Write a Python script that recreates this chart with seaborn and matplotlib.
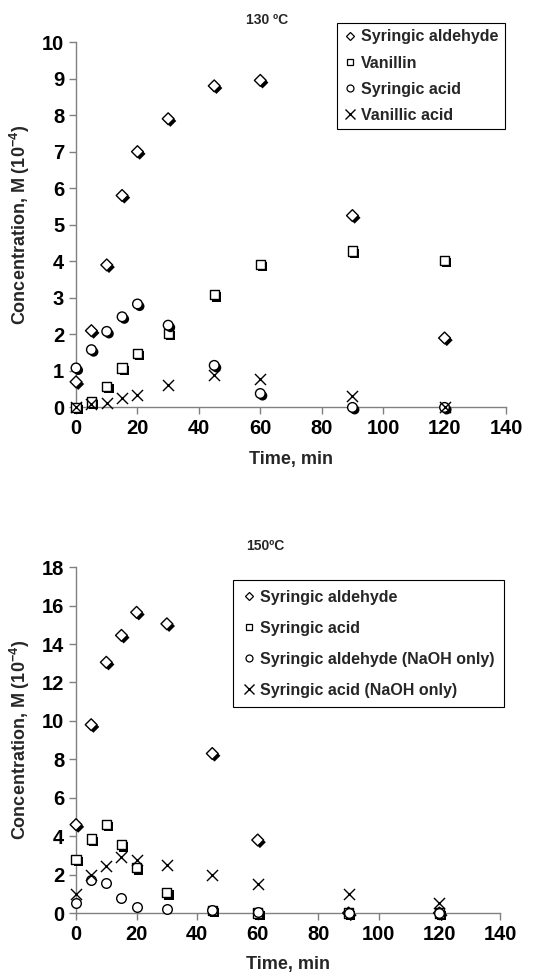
import numpy as np
import pandas as pd
import matplotlib
matplotlib.use('Agg')
import matplotlib.pyplot as plt
import matplotlib.patheffects as pe
from matplotlib.lines import Line2D
import seaborn as sns

sns.set_style('ticks')
plt.rcParams['font.family'] = ['Liberation Sans', 'DejaVu Sans']
plt.rcParams['font.weight'] = 'bold'
plt.rcParams['mathtext.fontset'] = 'custom'
plt.rcParams['mathtext.rm'] = 'Liberation Sans:bold'
plt.rcParams['mathtext.default'] = 'rm'

# 130 ºC data
time = [0, 5, 10, 15, 20, 30, 45, 60, 90, 120]
syr_ald_130 = [0.7, 2.1, 3.9, 5.8, 7.0, 7.9, 8.8, 8.95, 5.25, 1.9]
vanillin_130 = [0.0, 0.15, 0.58, 1.08, 1.48, 2.02, 3.08, 3.92, 4.28, 4.02]
syr_acid_130 = [1.08, 1.58, 2.08, 2.48, 2.83, 2.25, 1.15, 0.38, 0.0, 0.0]
van_acid_130 = [0.0, 0.08, 0.13, 0.25, 0.35, 0.62, 0.9, 0.78, 0.32, 0.02]

# 150 ºC data
syr_ald_150 = [4.6, 9.8, 13.05, 14.45, 15.65, 15.05, 8.3, 3.8, 0.0, 0.0]
syr_acid_150 = [2.8, 3.85, 4.6, 3.55, 2.35, 1.05, 0.15, 0.0, 0.0, 0.0]
syr_ald_naoh_150 = [0.5, 1.72, 1.55, 0.8, 0.33, 0.22, 0.15, 0.05, 0.02, 0.02]
syr_acid_naoh_150 = [0.98, 2.0, 2.45, 2.9, 2.75, 2.5, 2.0, 1.5, 0.98, 0.52]

names_130 = ['Syringic aldehyde', 'Vanillin', 'Syringic acid', 'Vanillic acid']
names_150 = ['Syringic aldehyde', 'Syringic acid',
             'Syringic aldehyde (NaOH only)', 'Syringic acid (NaOH only)']

markers = ['D', 's', 'o', 'x']
sizes = [36, 44, 48, 64]
shadow = [pe.SimplePatchShadow(offset=(1.6, -1.6), shadow_rgbFace='black', alpha=1.0),
          pe.Normal()]

fig = plt.figure(figsize=(5.47, 9.77), dpi=100)
ax1 = fig.add_axes([0.139, 0.583, 0.786, 0.374])
ax2 = fig.add_axes([0.139, 0.0655, 0.775, 0.354])


def draw_panel(ax, series, names, shadows, ymax, ystep):
    for vals, name, m, s, sh in zip(series, names, markers, sizes, shadows):
        df = pd.DataFrame({'time': time, 'conc': vals})
        kw = dict(path_effects=shadow) if sh else {}
        if m == 'x':
            sns.scatterplot(data=df, x='time', y='conc', marker=m, s=s, color='black',
                            linewidth=1.0, ax=ax, clip_on=False, zorder=3, **kw)
        else:
            sns.scatterplot(data=df, x='time', y='conc', marker=m, s=s, color='white',
                            edgecolor='black', linewidth=1.0, ax=ax, clip_on=False,
                            zorder=3, **kw)
    ax.set_xlim(0, 140)
    ax.set_ylim(0, ymax)
    ax.set_xticks(np.arange(0, 141, 20))
    ax.set_yticks(np.arange(0, ymax + 0.1, ystep))
    sns.despine(ax=ax)
    for sp in ['left', 'bottom']:
        ax.spines[sp].set_color('#808080')
        ax.spines[sp].set_linewidth(1.0)
    ax.tick_params(colors='#808080', labelcolor='black', labelsize=14.5,
                   length=5, width=1.0, direction='out')
    for lab in ax.get_xticklabels() + ax.get_yticklabels():
        lab.set_fontweight('bold')
    ax.set_xlabel('Time, min', fontsize=13, fontweight='bold', labelpad=9)
    ax.set_ylabel('Concentration, M (10$^{-4}$)', fontsize=13,
                  fontweight='bold', labelpad=7)


draw_panel(ax1, [syr_ald_130, vanillin_130, syr_acid_130, van_acid_130],
           names_130, [True, True, True, False], 10, 1)
draw_panel(ax2, [syr_ald_150, syr_acid_150, syr_ald_naoh_150, syr_acid_naoh_150],
           names_150, [True, True, False, False], 18, 2)

fig.text(267 / 547, 1 - 20 / 977, '130 ºC', ha='center', va='center',
         fontsize=10, fontweight='bold')
fig.text(265 / 547, 1 - 546 / 977, '150ºC', ha='center', va='center',
         fontsize=10, fontweight='bold')


def make_handles():
    hs = []
    for m in markers:
        if m == 'x':
            hs.append(Line2D([], [], ls='none', marker='x', color='black',
                             markersize=6.5, markeredgewidth=1.0))
        else:
            hs.append(Line2D([], [], ls='none', marker=m, markerfacecolor='white',
                             markeredgecolor='black', markersize=5 if m != 'D' else 4.5,
                             markeredgewidth=0.9))
    return hs


leg1 = fig.legend(make_handles(), names_130, loc='upper right',
                  bbox_to_anchor=(505 / 547, 1 - 23 / 977), borderaxespad=0,
                  frameon=True, fancybox=False, framealpha=1, edgecolor='black',
                  prop={'weight': 'bold', 'size': 11.5}, handlelength=0.8,
                  handletextpad=0.3, labelspacing=0.7, borderpad=0.4)
leg1.get_frame().set_linewidth(0.8)

leg2 = fig.legend(make_handles(), names_150, loc='upper right',
                  bbox_to_anchor=(504 / 547, 1 - 580 / 977), borderaxespad=0,
                  frameon=True, fancybox=False, framealpha=1, edgecolor='black',
                  prop={'weight': 'bold', 'size': 11.5}, handlelength=0.8,
                  handletextpad=0.3, labelspacing=1.0, borderpad=0.6)
leg2.get_frame().set_linewidth(0.8)

fig.savefig('out.png', dpi=100)
